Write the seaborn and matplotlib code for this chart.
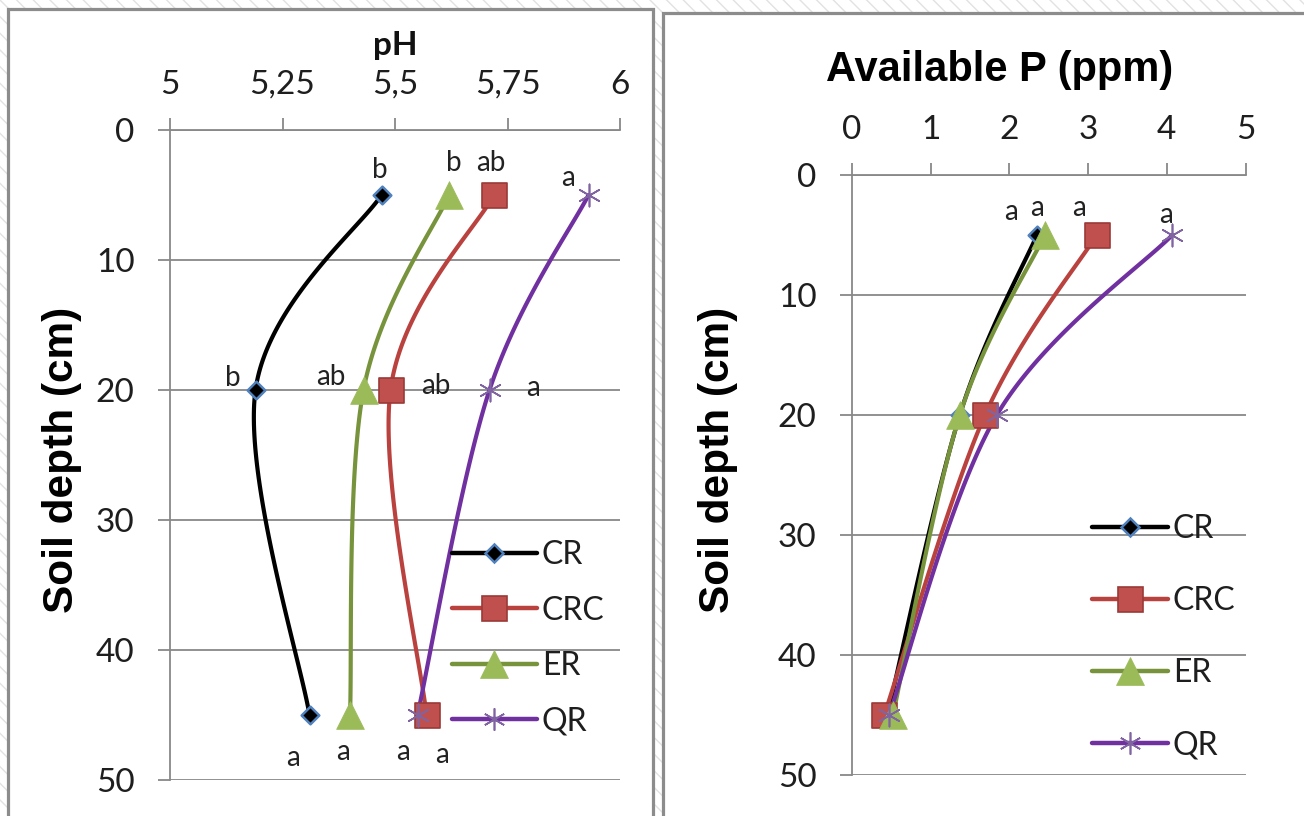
import numpy as np
import pandas as pd
import matplotlib
matplotlib.use("Agg")
import matplotlib.pyplot as plt
from matplotlib.patches import Rectangle
from matplotlib.lines import Line2D
import seaborn as sns

# ---- data -------------------------------------------------------------
depth = [5, 20, 45]
treatments = ["CR", "CRC", "ER", "QR"]

ph_CR = [5.47, 5.19, 5.31]
ph_CRC = [5.72, 5.49, 5.57]
ph_ER = [5.62, 5.43, 5.40]
ph_QR = [5.93, 5.71, 5.55]

p_CR = [2.35, 1.37, 0.45]
p_CRC = [3.11, 1.69, 0.41]
p_ER = [2.45, 1.37, 0.52]
p_QR = [4.07, 1.84, 0.47]

ph_letters = {"CR": ["b", "b", "a"], "CRC": ["ab", "ab", "a"],
              "ER": ["b", "ab", "a"], "QR": ["a", "a", "a"]}
p_letters = {"CR": ["a", None, None], "CRC": ["a", None, None],
             "ER": ["a", None, None], "QR": ["a", None, None]}

ph_ticks = [5, 5.25, 5.5, 5.75, 6]
ph_ticklabels = ["5", "5,25", "5,5", "5,75", "6"]
p_ticks = [0, 1, 2, 3, 4, 5]
depth_ticks = [0, 10, 20, 30, 40, 50]

# ---- style ------------------------------------------------------------
sns.set_theme(style="white")
plt.rcParams["font.family"] = ["Lato", "DejaVu Sans"]
plt.rcParams["hatch.linewidth"] = 1.0

line_colors = {"CR": "#000000", "CRC": "#b9423f", "ER": "#77933c", "QR": "#7030a0"}
marker_style = {
    "CR": dict(marker="D", s=9 ** 2, color="#000000", edgecolor="#4f81bd", linewidth=1.8),
    "CRC": dict(marker="s", s=18 ** 2, color="#c0504d", edgecolor="#9a3a37", linewidth=1.2),
    "ER": dict(marker="^", s=20 ** 2, color="#9bbb59", edgecolor="#9bbb59", linewidth=0.5),
    "QR": dict(marker=(6, 2, 0), s=16 ** 2, color="#8064a2", edgecolor="#8064a2", linewidth=1.2),
}
grid_col = "#888888"
tick_col = "#1e1e1e"

ph_offsets = {
    "CR": [(-1.4, 18), (-16.6, 8.6), (-12.2, -31)],
    "CRC": [(-2.2, 23), (32.4, 2.9), (-16.6, -26.6)],
    "ER": [(3.6, 23), (-23.8, 9.4), (-5.0, -26.6)],
    "QR": [(-15, 12.2), (31, 1.4), (18, -28.8)],
}
p_offsets = {
    "CR": [(-18.7, 16.6), None, None],
    "CRC": [(-13, 19.4), None, None],
    "ER": [(-5.8, 19.4), None, None],
    "QR": [(-4.3, 14.4), None, None],
}


def smooth_curve(xs, ys, sx, sy, n=60):
    """Bezier smoothing through the points (spreadsheet-style smoothed line)."""
    P = np.column_stack([np.asarray(xs, float) * sx, np.asarray(ys, float) * sy])
    pts = []
    for i in range(len(P) - 1):
        p0 = P[i - 1] if i > 0 else P[i]
        p1, p2 = P[i], P[i + 1]
        p3 = P[i + 2] if i + 2 < len(P) else P[i + 1]
        c1 = p1 + (p2 - p0) / 6.0
        c2 = p2 - (p3 - p1) / 6.0
        t = np.linspace(0, 1, n)[:, None]
        seg = ((1 - t) ** 3) * p1 + 3 * ((1 - t) ** 2) * t * c1 + 3 * (1 - t) * t ** 2 * c2 + t ** 3 * p2
        pts.append(seg if i == 0 else seg[1:])
    pts = np.vstack(pts)
    return pts[:, 0] / sx, pts[:, 1] / sy


W, H = 1304, 816
fig = plt.figure(figsize=(W / 100, H / 100), dpi=100)

# striped page background and the two framed panels
fig.patches.append(Rectangle((0, 0), 1, 1, transform=fig.transFigure, facecolor="white",
                             edgecolor="#e2e2e2", hatch="\\\\", lw=0, zorder=-20))
fig.patches.append(Rectangle((8 / W, -20 / H), 645 / W, (H - 9 + 20) / H, transform=fig.transFigure,
                             facecolor="white", edgecolor="#8c8c8c", lw=2.3, zorder=-10))
fig.patches.append(Rectangle((663 / W, -20 / H), 700 / W, (H - 13 + 20) / H, transform=fig.transFigure,
                             facecolor="white", edgecolor="#8c8c8c", lw=2.3, zorder=-10))

ax1 = fig.add_axes([170 / W, 1 - 780 / H, 450 / W, 650 / H])
ax2 = fig.add_axes([852 / W, 1 - 775 / H, 393.5 / W, 600 / H])


def draw_panel(ax, series, letters, offsets, xlim, xticks, xticklabels, sx, sy, lw):
    ax.set_facecolor("none")
    for name in treatments:
        vals = series[name]
        cx, cy = smooth_curve(vals, depth, sx, sy)
        curve = pd.DataFrame({"x": cx, "y": cy})
        sns.lineplot(data=curve, x="x", y="y", sort=False, estimator=None, ax=ax,
                     color=line_colors[name], linewidth=lw, zorder=3)
        pts = pd.DataFrame({"x": vals, "y": depth})
        sns.scatterplot(data=pts, x="x", y="y", ax=ax, zorder=4, **marker_style[name])
        for v, d, lab, off in zip(vals, depth, letters[name], offsets[name]):
            if lab is None:
                continue
            ax.annotate(lab, (v, d), xytext=off, textcoords="offset points",
                        ha="center", va="center", fontsize=20, color="#222222", zorder=5)

    ax.set_xlim(*xlim)
    ax.set_ylim(50, 0)
    ax.xaxis.tick_top()
    ax.set_xticks(xticks)
    ax.set_xticklabels(xticklabels)
    ax.set_yticks(depth_ticks)
    ax.set_xlabel("")
    ax.set_ylabel("")
    ax.grid(False)
    ax.yaxis.grid(True, color=grid_col, linewidth=1.3)
    for side in ("right", "bottom"):
        ax.spines[side].set_visible(False)
    for side in ("left", "top"):
        ax.spines[side].set_visible(True)
        ax.spines[side].set_color(grid_col)
        ax.spines[side].set_linewidth(1.3)
    ax.tick_params(axis="x", which="major", top=True, bottom=False, direction="out",
                   length=8.6, width=1.3, color=grid_col, labelsize=24, labelcolor=tick_col, pad=13)
    ax.tick_params(axis="y", which="major", left=True, direction="out",
                   length=8.6, width=1.3, color=grid_col, labelsize=24, labelcolor=tick_col, pad=17)


ph = {"CR": ph_CR, "CRC": ph_CRC, "ER": ph_ER, "QR": ph_QR}
pp = {"CR": p_CR, "CRC": p_CRC, "ER": p_ER, "QR": p_QR}

draw_panel(ax1, ph, ph_letters, ph_offsets, (5, 6), ph_ticks, ph_ticklabels, 450.0, 13.0, 3.0)
draw_panel(ax2, pp, p_letters, p_offsets, (0, 5), p_ticks, [str(t) for t in p_ticks], 78.7, 12.0, 3.0)


def legend_handles():
    hs = []
    for name in treatments:
        st = marker_style[name]
        hs.append(Line2D([], [], color=line_colors[name], linewidth=3.2, marker=st["marker"],
                         markersize=np.sqrt(st["s"]), markerfacecolor=st["color"],
                         markeredgecolor=st["edgecolor"], markeredgewidth=st["linewidth"]))
    return hs


leg1 = ax1.legend(legend_handles(), treatments, loc="upper left", frameon=False,
                  bbox_to_anchor=(452 / W, 1 - 540 / H), bbox_transform=fig.transFigure,
                  fontsize=23, handlelength=2.66, handletextpad=0.15, labelspacing=0.8,
                  borderpad=0, borderaxespad=0, numpoints=1)
leg2 = ax2.legend(legend_handles(), treatments, loc="upper left", frameon=False,
                  bbox_to_anchor=(1092 / W, 1 - 514 / H), bbox_transform=fig.transFigure,
                  fontsize=23, handlelength=2.38, handletextpad=0.15, labelspacing=1.32,
                  borderpad=0, borderaxespad=0, numpoints=1)
for lg in (leg1, leg2):
    for t in lg.get_texts():
        t.set_color(tick_col)

# axis titles
fig.text(395 / W, 1 - 45 / H, "pH", ha="center", va="center", fontsize=24,
         fontweight="bold", color="#111111")
fig.text(1000 / W, 1 - 70 / H, "Available P (ppm)", ha="center", va="center", fontsize=30,
         fontweight="bold", family=["Liberation Sans", "DejaVu Sans"], color="#000000")
for xpos in (62, 718):
    fig.text(xpos / W, 1 - 460 / H, "Soil depth (cm)", ha="center", va="center", rotation=90,
             fontsize=30.5, fontweight="bold", family=["Liberation Sans", "DejaVu Sans"],
             color="#000000")

fig.savefig("out.png", dpi=100)
